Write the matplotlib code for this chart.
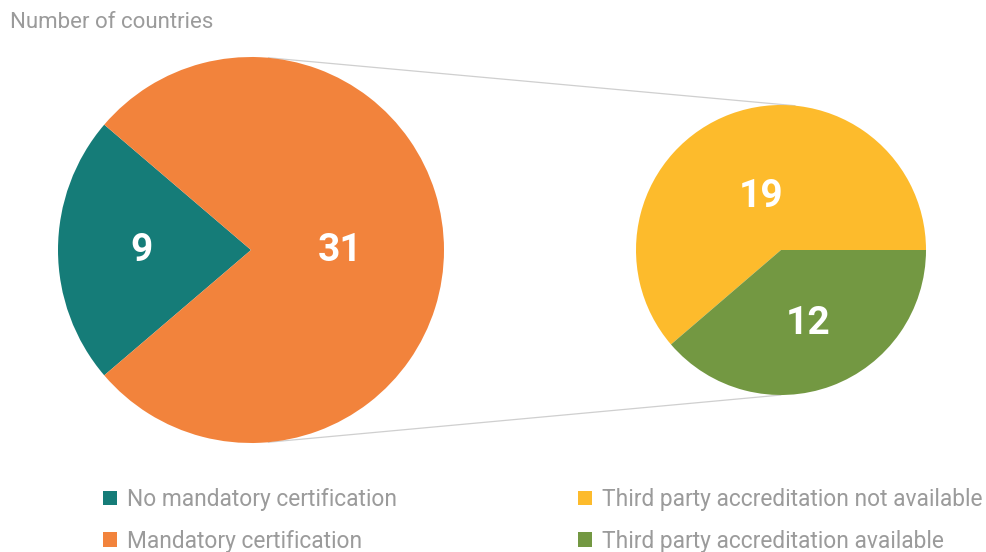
import matplotlib
matplotlib.use('Agg')
import numpy as np
import matplotlib.pyplot as plt
import matplotlib.patches as mpatches
from matplotlib.patches import ConnectionPatch

# ── data ──
main_labels = ['No mandatory certification', 'Mandatory certification']
main_values = [9, 31]
sub_labels = ['Third party accreditation not available', 'Third party accreditation available']
sub_values = [19, 12]

# ── colours ──
TEAL   = '#157C78'
ORANGE = '#F2833C'
YELLOW = '#FDBB2C'
GREEN  = '#739842'
GREYTXT = '#9B9B9B'
LINE   = '#CFCFCF'

plt.rcParams['font.family'] = ['Roboto', 'DejaVu Sans']

W, H = 987, 552
fig = plt.figure(figsize=(W / 100, H / 100), dpi=100)

def px_axes(cx, cy, r):
    # centre / radius in pixels (y from top)
    return fig.add_axes([(cx - r) / W, (H - cy - r) / H, 2 * r / W, 2 * r / H])

ax1 = px_axes(251, 250, 193)
ax2 = px_axes(781, 250, 145)

def draw_pie(ax, vals, colors, start, dists):
    wedges, _ = ax.pie(vals, colors=colors, startangle=start,
                       wedgeprops=dict(linewidth=0))
    for w, v, d in zip(wedges, vals, dists):
        ang = np.deg2rad((w.theta1 + w.theta2) / 2)
        ax.text(d * np.cos(ang), d * np.sin(ang), str(v), color='white',
                fontsize=28, fontweight='bold', ha='center', va='center')

# left pie: teal slice centred on the left
half = main_values[0] / sum(main_values) * 360 / 2
draw_pie(ax1, main_values, [TEAL, ORANGE], 180 - half, [0.565, 0.46])
draw_pie(ax2, sub_values, [YELLOW, GREEN], 0, [0.39, 0.54])

for ax in (ax1, ax2):
    ax.set_xlim(-1, 1)
    ax.set_ylim(-1, 1)
    ax.set_aspect('equal')
    ax.axis('off')

# connector lines
for (xa, ya), (xb, yb) in [((0.09, 0.996), (0.097, 0.995)),
                           ((0.09, -0.996), (0.0, -1.0))]:
    con = ConnectionPatch(xyA=(xa, ya), coordsA=ax1.transData,
                          xyB=(xb, yb), coordsB=ax2.transData,
                          color=LINE, linewidth=0.9, zorder=0)
    fig.add_artist(con)

fig.text(10 / W, 1 - 22 / H, 'Number of countries', fontsize=16,
         color=GREYTXT, ha='left', va='center')

# legends
def legend(labels, colors, x, y):
    handles = [mpatches.Patch(facecolor=c, edgecolor='none', label=l)
               for l, c in zip(labels, colors)]
    leg = fig.legend(handles=handles, loc='upper left',
                     bbox_to_anchor=(x / W, 1 - y / H), frameon=False,
                     fontsize=16.4, handlelength=0.62, handleheight=0.62,
                     handletextpad=0.42, labelspacing=0.82, borderpad=0,
                     borderaxespad=0)
    for t in leg.get_texts():
        t.set_color(GREYTXT)

legend(main_labels, [TEAL, ORANGE], 103, 488)
legend(sub_labels, [YELLOW, GREEN], 578, 488)

fig.savefig('out.png', dpi=100, facecolor='white')
